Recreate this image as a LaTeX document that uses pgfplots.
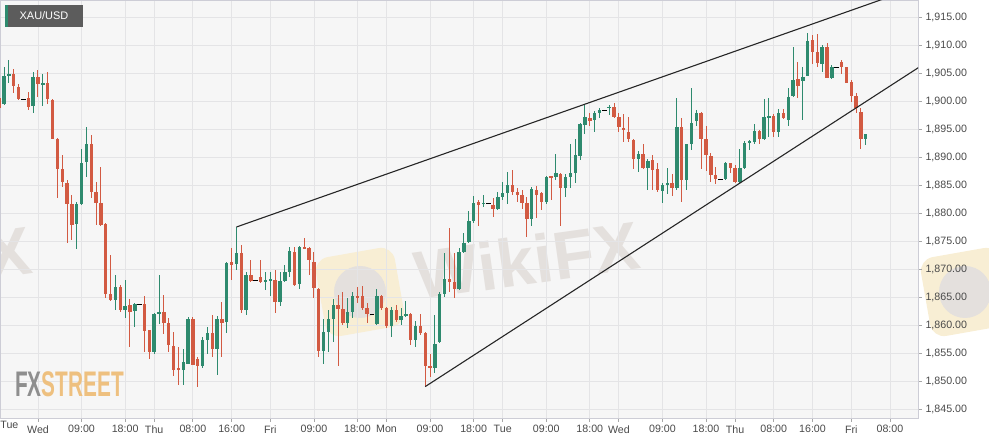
\documentclass[border=0pt]{standalone}
\usepackage{fontspec}
\setmainfont{Liberation Sans}
\usepackage{pgfplots}
\usepackage{pgfplotstable}
\pgfplotsset{compat=1.18}
\definecolor{cgreen}{HTML}{2E8A6E}
\definecolor{cred}{HTML}{D25A42}
\definecolor{bgc}{HTML}{F6F6F6}
\definecolor{gridc}{HTML}{E4E4E6}
\definecolor{axc}{HTML}{CDCDD6}
\definecolor{tickc}{HTML}{A8A8A8}
\definecolor{labc}{HTML}{4A4A4A}
\definecolor{wmc}{HTML}{E4E0DD}
\definecolor{wmy}{HTML}{F8EED4}
\definecolor{fxg}{HTML}{8E8E8E}
\definecolor{fxo}{HTML}{EEC07F}
\definecolor{boxc}{HTML}{5C5C5C}

\pgfplotstableread{
h O H L C
-8 1900.5 1904.9 1898.4 1898.7
-7 1899.5 1906.1 1899.3 1904.5
-6 1904.5 1907.3 1903.3 1904.8
-5 1904.8 1905.8 1901.4 1902.7
-4 1902.6 1903.1 1900.1 1900.3
-3 1900.3 1900.3 1900.3 1900.3
-2 1900.5 1901.7 1898.4 1899.0
-1 1899.1 1905.2 1897.9 1904.3
0 1904.3 1905.5 1900.7 1903.0
1 1903.0 1904.9 1899.2 1903.2
2 1903.3 1905.2 1899.5 1900.3
3 1900.2 1900.3 1893.2 1893.3
4 1893.3 1893.4 1882.6 1887.8
5 1887.8 1890.4 1884.7 1885.6
6 1885.4 1885.9 1874.6 1881.6
7 1881.6 1883.2 1875.2 1877.9
8 1878.0 1882.0 1873.5 1881.7
9 1881.6 1891.5 1881.4 1889.0
10 1889.1 1895.3 1886.5 1892.3
11 1892.3 1893.9 1882.6 1883.8
12 1883.8 1885.6 1877.9 1881.8
13 1881.8 1888.3 1877.7 1877.9
14 1878.0 1878.2 1864.8 1865.6
15 1865.6 1872.5 1864.2 1864.5
16 1864.5 1868.9 1862.7 1866.8
17 1866.7 1867.1 1862.4 1862.7
18 1862.7 1868.1 1861.2 1863.4
19 1863.5 1864.6 1856.0 1862.4
20 1862.5 1864.0 1859.6 1863.8
21 1863.6 1863.6 1863.6 1863.6
22 1863.8 1865.2 1855.2 1858.9
23 1859.1 1859.2 1853.9 1855.2
24 1855.2 1862.1 1854.9 1861.9
25 1862.0 1869.0 1860.2 1862.3
26 1862.3 1865.4 1858.4 1860.3
27 1860.4 1861.2 1855.2 1856.4
28 1856.2 1858.8 1850.9 1852.0
29 1852.3 1856.1 1849.3 1851.9
30 1852.0 1855.8 1849.3 1853.4
31 1853.1 1861.5 1853.0 1861.1
32 1861.1 1861.5 1852.8 1852.9
33 1854.0 1854.2 1849.0 1852.6
34 1852.6 1857.9 1852.3 1857.4
35 1857.4 1859.7 1854.9 1858.5
36 1858.6 1861.8 1854.3 1855.8
37 1855.8 1861.6 1851.1 1861.0
38 1861.1 1864.2 1854.3 1860.4
39 1860.6 1871.3 1858.6 1871.1
40 1871.2 1873.7 1868.1 1870.7
41 1870.9 1877.5 1869.8 1872.9
42 1872.9 1874.3 1862.1 1862.6
43 1862.6 1869.5 1861.8 1868.9
44 1868.9 1871.6 1867.7 1867.9
45 1867.9 1867.9 1867.9 1867.9
46 1868.6 1871.6 1867.5 1867.7
47 1867.7 1869.5 1866.2 1868.1
48 1867.9 1869.5 1865.2 1868.2
49 1868.0 1869.8 1862.1 1864.2
50 1864.2 1869.5 1863.4 1867.9
51 1867.9 1870.8 1867.6 1869.5
52 1869.4 1873.9 1868.6 1873.3
53 1873.1 1874.0 1866.9 1867.1
54 1867.3 1874.1 1866.4 1873.9
55 1873.9 1875.5 1873.5 1873.6
56 1873.7 1874.0 1868.9 1871.6
57 1871.3 1873.1 1864.8 1866.7
58 1866.5 1866.7 1854.3 1855.4
59 1855.4 1861.0 1853.1 1858.8
60 1858.8 1862.7 1855.2 1861.0
61 1861.0 1864.6 1857.0 1863.6
62 1863.6 1865.4 1852.6 1862.8
63 1862.8 1865.9 1860.0 1860.3
64 1860.3 1864.8 1859.4 1862.4
65 1862.4 1865.9 1861.2 1865.2
66 1865.2 1866.7 1863.9 1864.9
67 1865.2 1866.9 1862.7 1863.0
68 1863.0 1863.9 1860.3 1862.0
69 1861.9 1861.9 1861.9 1861.9
70 1860.2 1866.4 1860.0 1865.2
71 1865.2 1865.4 1862.6 1863.0
72 1863.0 1863.3 1859.4 1859.8
73 1859.8 1863.3 1857.9 1862.7
74 1862.6 1863.6 1860.6 1860.9
75 1860.9 1863.0 1860.0 1861.6
76 1861.6 1864.2 1861.4 1862.0
77 1862.0 1862.1 1856.4 1857.4
78 1857.4 1860.8 1856.1 1859.8
79 1859.8 1862.0 1858.2 1858.6
80 1858.6 1858.8 1849.0 1852.7
81 1852.7 1854.8 1850.8 1852.3
82 1852.3 1861.8 1851.4 1856.6
83 1857.0 1865.9 1856.8 1865.5
84 1865.5 1872.8 1865.0 1868.2
85 1868.3 1877.3 1865.9 1867.7
86 1867.7 1872.9 1864.8 1866.4
87 1866.4 1873.7 1866.3 1873.1
88 1873.0 1876.4 1872.8 1874.7
89 1874.9 1880.4 1874.7 1878.6
90 1878.6 1883.0 1878.2 1881.8
91 1882.0 1882.4 1877.7 1881.5
92 1881.6 1883.2 1881.0 1881.8
93 1881.7 1881.7 1881.7 1881.7
94 1881.4 1882.6 1879.3 1880.7
95 1880.7 1883.8 1880.6 1882.9
96 1882.9 1885.6 1882.3 1883.5
97 1883.5 1887.4 1881.6 1885.0
98 1885.0 1887.6 1883.2 1883.8
99 1883.8 1884.4 1882.0 1883.2
100 1883.2 1884.1 1880.8 1881.7
101 1881.7 1882.9 1875.8 1878.9
102 1878.9 1884.7 1877.6 1884.2
103 1884.2 1884.8 1879.2 1883.3
104 1883.5 1883.8 1880.5 1882.0
105 1882.0 1886.6 1881.6 1886.4
106 1886.5 1886.6 1882.3 1886.4
107 1886.4 1890.5 1885.9 1887.1
108 1887.0 1887.1 1877.6 1884.4
109 1884.4 1887.0 1882.9 1886.5
110 1886.5 1892.3 1884.4 1887.1
111 1887.1 1893.2 1885.4 1890.4
112 1890.2 1896.0 1889.5 1895.9
113 1895.7 1899.3 1894.1 1897.2
114 1896.9 1897.9 1895.5 1896.5
115 1896.6 1898.3 1894.5 1897.9
116 1897.8 1898.7 1896.9 1898.4
117 1898.3 1898.3 1898.3 1898.3
118 1898.7 1899.3 1897.5 1899.0
119 1898.9 1899.6 1897.0 1897.2
120 1897.2 1897.8 1894.5 1895.3
121 1895.1 1897.7 1892.7 1894.8
122 1894.5 1897.1 1892.7 1893.2
123 1893.0 1893.2 1887.8 1889.6
124 1889.6 1891.1 1887.4 1890.5
125 1890.5 1892.3 1887.8 1888.0
126 1888.0 1889.6 1884.2 1889.3
127 1889.5 1890.4 1884.1 1887.7
128 1887.8 1889.0 1883.8 1884.2
129 1884.0 1885.3 1881.7 1885.0
130 1885.0 1888.1 1883.4 1885.4
131 1885.3 1887.0 1883.0 1884.4
132 1884.4 1900.5 1884.1 1895.4
133 1895.4 1896.9 1881.9 1885.9
134 1885.9 1892.4 1884.2 1892.3
135 1892.4 1902.4 1891.3 1896.1
136 1896.5 1898.4 1895.5 1897.9
137 1897.9 1898.1 1887.8 1893.3
138 1893.3 1895.5 1887.5 1890.4
139 1890.2 1890.8 1885.6 1886.8
140 1886.8 1888.3 1885.2 1886.0
141 1886.0 1886.0 1886.0 1886.0
142 1886.0 1889.1 1885.9 1889.0
143 1888.9 1889.0 1887.2 1888.0
144 1888.0 1888.6 1885.3 1885.6
145 1885.6 1891.5 1885.2 1888.0
146 1888.0 1892.9 1887.9 1892.5
147 1892.6 1893.0 1891.3 1892.8
148 1892.6 1895.9 1892.4 1894.7
149 1894.7 1894.9 1892.4 1893.2
150 1893.2 1900.3 1893.0 1897.1
151 1897.1 1900.5 1893.5 1897.3
152 1897.3 1897.7 1893.5 1894.5
153 1894.5 1898.5 1893.5 1897.8
154 1897.8 1898.5 1896.7 1896.9
155 1896.7 1902.3 1895.5 1900.8
156 1900.9 1909.6 1900.8 1903.7
157 1904.0 1907.0 1900.5 1902.7
158 1903.6 1906.1 1896.6 1904.3
159 1904.5 1912.2 1904.4 1910.8
160 1910.9 1911.8 1906.7 1908.8
161 1908.8 1912.0 1906.1 1906.7
162 1906.7 1910.0 1905.1 1909.7
163 1909.6 1910.3 1904.1 1904.2
164 1904.2 1906.4 1903.9 1906.0
165 1906.0 1906.0 1906.0 1906.0
166 1907.0 1907.4 1904.8 1906.1
167 1906.0 1906.1 1903.2 1903.3
168 1903.4 1903.7 1899.9 1900.9
169 1900.9 1901.5 1897.8 1898.7
170 1898.1 1898.7 1891.5 1893.3
171 1893.3 1894.2 1892.1 1894.1
}\candles

\pgfplotsset{
  wick/.style={draw=none, mark=none, error bars/.cd, y dir=both, y explicit, error mark=none,
    error bar style={draw=#1, line width=1bp}},
  body/.style={draw=none, mark=none, error bars/.cd, y dir=both, y explicit, error mark=none,
    error bar style={draw=#1, line width=3.4bp}},
}

\begin{document}
\begin{tikzpicture}[x=1bp,y=1bp]
\useasboundingbox (0,-26) rectangle (989,418);
\fill[bgc] (0,0) rectangle (918,418);
% watermarks (behind)
\begin{scope}
\clip (0,-26) rectangle (989,418);
\fill[wmy, rounded corners=14bp, rotate around={10:(360,126)}] (320,86) rectangle (400,166);
\fill[wmc] (360,126) circle (26);
\fill[wmy, rounded corners=14bp, rotate around={10:(965,126)}] (925,86) rectangle (1005,166);
\fill[wmc] (965,126) circle (26);
\node[text=wmc, font=\fontsize{68}{68}\selectfont\bfseries, rotate=8] at (527,158) {WikiFX};
\node[text=wmc, font=\fontsize{68}{68}\selectfont\bfseries, rotate=8, anchor=east] at (34,168) {FX};
\end{scope}
\begin{axis}[
  scale only axis, width=918bp, height=418bp, at={(0,0)}, anchor=south west,
  xmin=-7.85, xmax=181.8, ymin=1843.39, ymax=1918.04,
  axis line style={draw=axc, line width=0.8bp},
  xtick={0,9,18,24,32,40,48,57,66,72,81,90,96,105,114,120,129,138,144,152,160,168,176},
  xticklabels={Wed,09:00,18:00,Thu,08:00,16:00,Fri,09:00,18:00,Mon,09:00,18:00,Tue,09:00,18:00,Wed,09:00,18:00,Thu,08:00,16:00,Fri,08:00},
  extra x ticks={-5.9}, extra x tick labels={Tue},
  extra x tick style={grid=none, major tick length=0pt},
  ytick={1845,1850,...,1915},
  xtick pos=bottom, ytick pos=right, yticklabel pos=right,
  tick align=outside, major tick length=4bp,
  tick style={draw=tickc, line width=0.8bp},
  grid=major, grid style={draw=gridc, line width=0.8bp},
  ticklabel style={font=\fontsize{10.7}{12}\selectfont, text=labc},
  scaled y ticks=false,
  yticklabel style={/pgf/number format/.cd, fixed, fixed zerofill, precision=2, 1000 sep={,}, assume math mode=true},
  clip=true,
]
% green wicks & bodies
\addplot[wick=cgreen]
  table[x=h, y expr={\thisrow{C}>\thisrow{O} ? (\thisrow{H}+\thisrow{L})/2 : nan}, y error expr={(\thisrow{H}-\thisrow{L})/2}] {\candles};
\addplot[body=cgreen]
  table[x=h, y expr={\thisrow{C}>\thisrow{O} ? (\thisrow{O}+\thisrow{C})/2 : nan}, y error expr={max(abs(\thisrow{C}-\thisrow{O})/2,0.13)}] {\candles};
% red wicks & bodies
\addplot[wick=cred]
  table[x=h, y expr={\thisrow{C}<\thisrow{O} ? (\thisrow{H}+\thisrow{L})/2 : nan}, y error expr={(\thisrow{H}-\thisrow{L})/2}] {\candles};
\addplot[body=cred]
  table[x=h, y expr={\thisrow{C}<\thisrow{O} ? (\thisrow{O}+\thisrow{C})/2 : nan}, y error expr={max(abs(\thisrow{C}-\thisrow{O})/2,0.13)}] {\candles};
% doji dashes (zero-range hours)
\addplot[only marks, mark=-, mark size=2.4bp, mark options={draw=black, line width=0.9bp}]
  table[x=h, y expr={abs(\thisrow{H}-\thisrow{L})<0.01 ? \thisrow{C} : nan}] {\candles};
% trend lines
\addplot[draw=black!85, line width=1.1bp, mark=none] coordinates {(41,1877.5) (190,1922.9)};
\addplot[draw=black!85, line width=1.1bp, mark=none] coordinates {(80,1849.0) (190,1910.5)};
\end{axis}
% label box
\fill[boxc] (5,391) rectangle (83,413);
\fill[cgreen] (5,391) rectangle (8,413);
\node[text=white, font=\fontsize{11}{12}\selectfont] at (44,402) {XAU/USD};
% FXSTREET logo
\node[anchor=base west, inner sep=0pt, xscale=0.585, font=\fontsize{35.7}{36}\selectfont\bfseries] at (15,21) {\textcolor{fxg}{FX}\textcolor{fxo}{STREET}};
\end{tikzpicture}
\end{document}
